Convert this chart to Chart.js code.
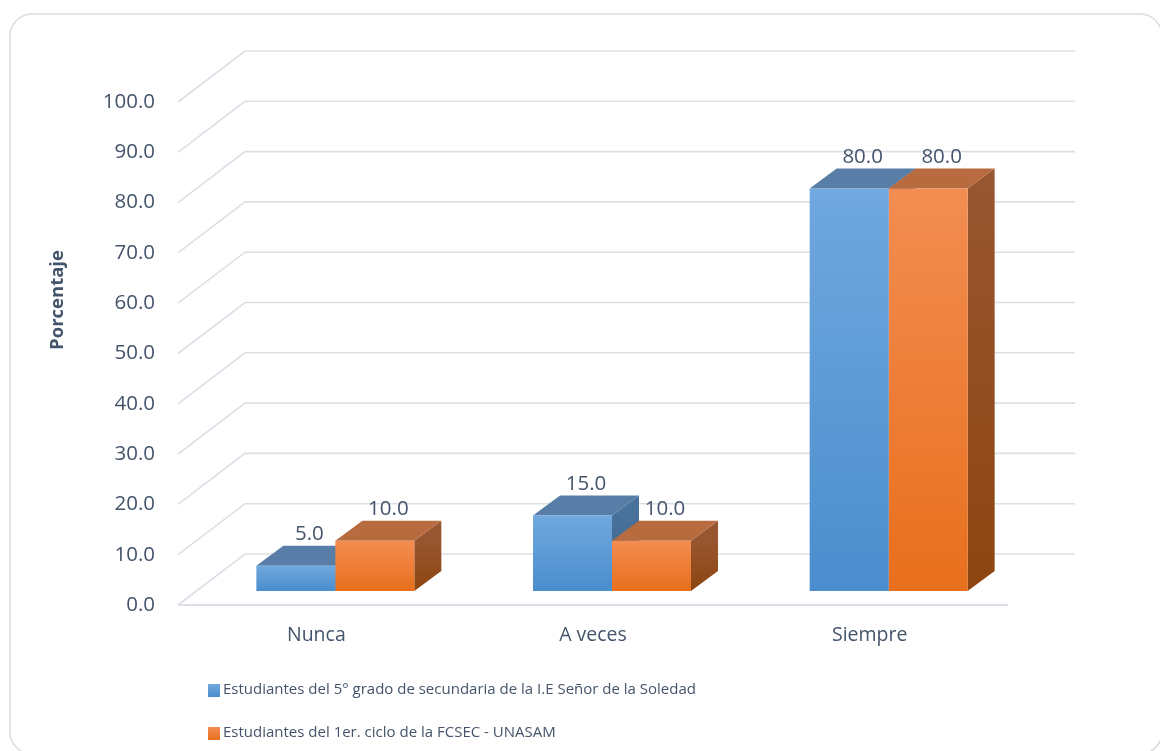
<!DOCTYPE html>
<html><head><meta charset="utf-8">
<script src="https://cdn.jsdelivr.net/npm/chart.js@4.4.1/dist/chart.umd.min.js"></script>
<style>html,body{margin:0;padding:0;background:#fff;overflow:hidden}canvas{display:block}</style>
</head><body>
<canvas id="c" width="1160" height="751"></canvas>
<script>
// ---- data ----
const categories = ['Nunca', 'A veces', 'Siempre'];
const seriesNames = [
  'Estudiantes del 5° grado de secundaria de la I.E Señor de la Soledad',
  'Estudiantes del 1er. ciclo de la FCSEC - UNASAM'
];
const secundaria = [5.0, 15.0, 80.0];
const universidad = [10.0, 10.0, 80.0];
const yTickValues = [0, 10, 20, 30, 40, 50, 60, 70, 80, 90, 100];
const axisTitle = 'Porcentaje';

// ---- styles ----
const FONT = '"Open Sans", "Noto Sans", sans-serif';
const TEXT = '#44546a';
const GRID = '#dcdfe6';
const CARD = '#d9dce3';
const WALL = {dx: 67, dy: -51};
const FRONT = {dx: 19, dy: -14};
const DEPTH = {dx: 27, dy: -20};
const palette = [
  {front: ['#70a8df', '#4a8dcd'], top: '#587ea8', side: ['#48719b', '#3c648c']},
  {front: ['#f38d52', '#e86f1c'], top: '#b86b3f', side: ['#985630', '#8d4410']}
];

function frontFill(c, i) {
  const ch = c.chart, y = ch.scales.y;
  if (!y || c.type !== 'data') return palette[i].front[1];
  const yt = y.getPixelForValue(c.raw), yb = y.getPixelForValue(0);
  if (!isFinite(yt) || !isFinite(yb) || yt === yb) return palette[i].front[1];
  const g = ch.ctx.createLinearGradient(0, yt, 0, yb);
  g.addColorStop(0, palette[i].front[0]);
  g.addColorStop(1, palette[i].front[1]);
  return g;
}

const wallPlugin = {
  id: 'wall',
  beforeDraw(chart) {
    const {ctx, chartArea: a, scales: {y}} = chart;
    ctx.save();
    ctx.fillStyle = '#fff';
    ctx.fillRect(0, 0, chart.width, chart.height);
    ctx.strokeStyle = CARD; ctx.lineWidth = 1.5;
    ctx.beginPath(); ctx.roundRect(10, 14, 1152, 740, 22); ctx.stroke();
    ctx.strokeStyle = GRID; ctx.lineWidth = 1.6;
    y.ticks.forEach(t => {
      const py = y.getPixelForValue(t.value);
      ctx.beginPath();
      ctx.moveTo(a.left, py);
      ctx.lineTo(a.left + WALL.dx, py + WALL.dy);
      ctx.lineTo(a.right + WALL.dx, py + WALL.dy);
      ctx.stroke();
    });
    const p0 = y.getPixelForValue(0);
    ctx.lineWidth = 2;
    ctx.beginPath(); ctx.moveTo(a.left, p0); ctx.lineTo(a.right, p0); ctx.stroke();
    ctx.restore();
  }
};

const bar3d = {
  id: 'bar3d',
  beforeDatasetsDraw(chart) {
    const ctx = chart.ctx;
    ctx.save();
    ctx.translate(FRONT.dx, FRONT.dy);
    chart.data.datasets.forEach((ds, i) => {
      const meta = chart.getDatasetMeta(i), pal = palette[i];
      meta.data.forEach(bar => {
        const {x, y, base, width} = bar.getProps(['x', 'y', 'base', 'width'], true);
        const l = x - width / 2, r = x + width / 2;
        const g = ctx.createLinearGradient(0, y, 0, base);
        g.addColorStop(0, pal.side[0]); g.addColorStop(1, pal.side[1]);
        ctx.fillStyle = g;
        ctx.beginPath();
        ctx.moveTo(r, y); ctx.lineTo(r + DEPTH.dx, y + DEPTH.dy);
        ctx.lineTo(r + DEPTH.dx, base + DEPTH.dy); ctx.lineTo(r, base);
        ctx.closePath(); ctx.fill();
        ctx.fillStyle = pal.top;
        ctx.beginPath();
        ctx.moveTo(l, y); ctx.lineTo(r, y);
        ctx.lineTo(r + DEPTH.dx, y + DEPTH.dy); ctx.lineTo(l + DEPTH.dx, y + DEPTH.dy);
        ctx.closePath(); ctx.fill();
      });
    });
  },
  afterDatasetsDraw(chart) {
    const ctx = chart.ctx;
    ctx.fillStyle = TEXT;
    ctx.font = '20.5px ' + FONT;
    ctx.textAlign = 'center';
    ctx.textBaseline = 'alphabetic';
    chart.data.datasets.forEach((ds, i) => {
      chart.getDatasetMeta(i).data.forEach((bar, j) => {
        const {x, y} = bar.getProps(['x', 'y'], true);
        ctx.fillText(ds.data[j].toFixed(1), x + DEPTH.dx / 2, y + DEPTH.dy - 6);
      });
    });
    ctx.restore();
  }
};

const decor = {
  id: 'decor',
  afterDraw(chart) {
    const ctx = chart.ctx;
    ctx.save();
    // axis title
    ctx.translate(58, 300);
    ctx.rotate(-Math.PI / 2);
    ctx.fillStyle = TEXT;
    ctx.font = 'bold 18.5px ' + FONT;
    ctx.textAlign = 'center'; ctx.textBaseline = 'middle';
    ctx.fillText(axisTitle, 0, 0);
    ctx.restore();
    // legend
    ctx.save();
    ctx.font = '15px ' + FONT;
    ctx.textAlign = 'left'; ctx.textBaseline = 'middle';
    const rows = [690, 733];
    chart.data.datasets.forEach((ds, i) => {
      const cy = rows[i];
      const g = ctx.createLinearGradient(0, cy - 6, 0, cy + 7);
      g.addColorStop(0, palette[i].front[0]); g.addColorStop(1, palette[i].front[1]);
      ctx.fillStyle = g;
      ctx.fillRect(208, cy - 6, 12, 13);
      ctx.fillStyle = TEXT;
      ctx.fillText(ds.label, 223, cy);
    });
    ctx.restore();
  }
};

new Chart(document.getElementById('c'), {
  type: 'bar',
  data: {
    labels: categories,
    datasets: [
      {label: seriesNames[0], data: secundaria, backgroundColor: c => frontFill(c, 0)},
      {label: seriesNames[1], data: universidad, backgroundColor: c => frontFill(c, 1)}
    ]
  },
  options: {
    responsive: false,
    animation: false,
    devicePixelRatio: 1,
    layout: {padding: {left: 0, right: 152, top: 102, bottom: 0}},
    datasets: {bar: {categoryPercentage: 0.571, barPercentage: 1, borderWidth: 0, clip: false}},
    plugins: {legend: {display: false}, tooltip: {enabled: false}},
    scales: {
      x: {
        grid: {display: false, drawTicks: false},
        border: {display: false},
        ticks: {color: TEXT, font: {family: FONT, size: 19.5}, padding: 19, maxRotation: 0},
        afterFit: s => { s.height = 146; }
      },
      y: {
        min: 0, max: 100,
        grid: {display: false, drawTicks: false},
        border: {display: false},
        ticks: {color: TEXT, font: {family: FONT, size: 20.5}, padding: 23, callback: v => v.toFixed(1)},
        afterBuildTicks: s => { s.ticks = yTickValues.map(v => ({value: v})); },
        afterFit: s => { s.width = 178; }
      }
    }
  },
  plugins: [wallPlugin, bar3d, decor]
});
</script>
</body></html>
